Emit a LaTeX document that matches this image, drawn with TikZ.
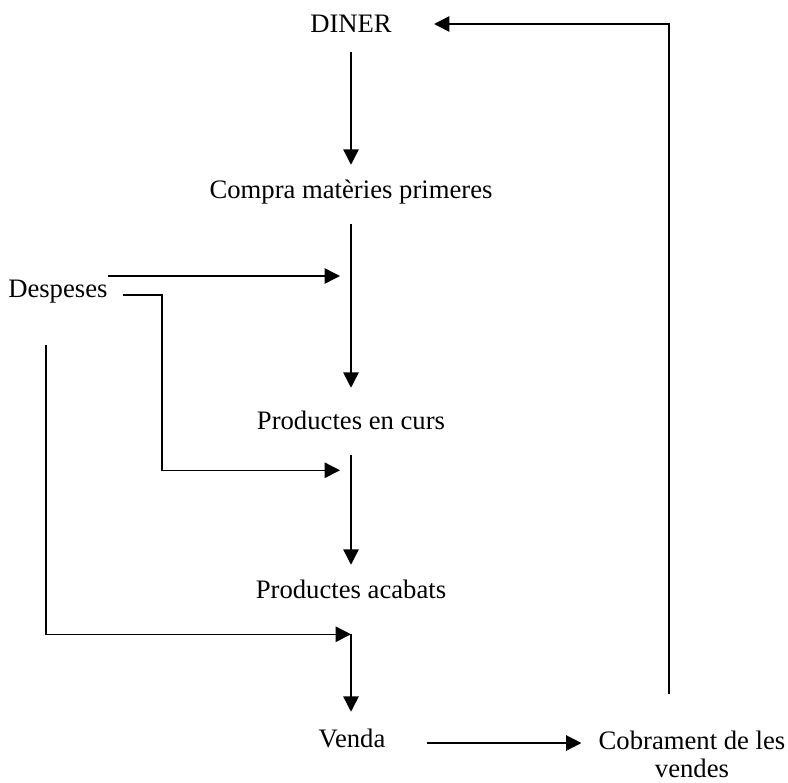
\documentclass[tikz,border=0pt]{standalone}
\usepackage{fontspec}
\setmainfont{Liberation Serif}
\usetikzlibrary{arrows.meta,calc}
\begin{document}
\begin{tikzpicture}[x=0.75pt,y=-0.75pt,
  lbl/.style={inner sep=0pt, font=\fontsize{20}{21}\selectfont, text height=13.5pt, text depth=0pt},
  conn/.style={line width=1.1pt, black},
  arr/.style={conn, -{Triangle[length=11.5pt,width=11.5pt]}}]
\useasboundingbox (0,0) rectangle (788,782);
% texts
\node[lbl,anchor=base] (diner) at (351,32) {DINER};
\node[lbl,anchor=base] (compra) at (351,198) {Compra matèries primeres};
\node[lbl,anchor=base] (curs) at (351,429) {Productes en curs};
\node[lbl,anchor=base] (acab) at (351,598) {Productes acabats};
\node[lbl,anchor=base] (venda) at (352,747) {Venda};
\node[lbl,anchor=base west] (desp) at (8,297) {Despeses};
\node[inner sep=0pt, font=\fontsize{20}{21}\selectfont, align=center, anchor=north] (cob) at (692,731) {Cobrament de les\\vendes};
\coordinate (lstart) at (46,345);
% main chain
\draw[arr] ($(diner.south)+(0,20)$) -- ($(compra.north)+(0,-15)$);
\draw[arr] ($(compra.south)+(0,26)$) -- ($(curs.north)+(0,-23)$);
\draw[arr] ($(curs.south)+(0,26)$) -- ($(acab.north)+(0,-15)$);
\draw[arr] ($(acab.south)+(0,36)$) -- ($(acab.south |- venda.north)+(0,-17)$);
% despeses
\draw[arr] ($(desp.east)+(0,-12)$) -- ($(compra.south |- desp.east)+(-11,-12)$);
\draw[arr] ($(desp.east)+(15,7)$) -- ++(39,0) |- ($(curs.south)+(-11,41)$);
\draw[arr] (lstart) |- ($(acab.south)+(0,36)$);
% sales
\draw[arr] ($(venda.east)+(41,5)$) -- ($(cob.west |- venda.east)+(-17,5)$);
\draw[arr] ($(cob.north)+(-23,-37)$) |- ($(diner.east)+(42,1)$);
\end{tikzpicture}
\end{document}
